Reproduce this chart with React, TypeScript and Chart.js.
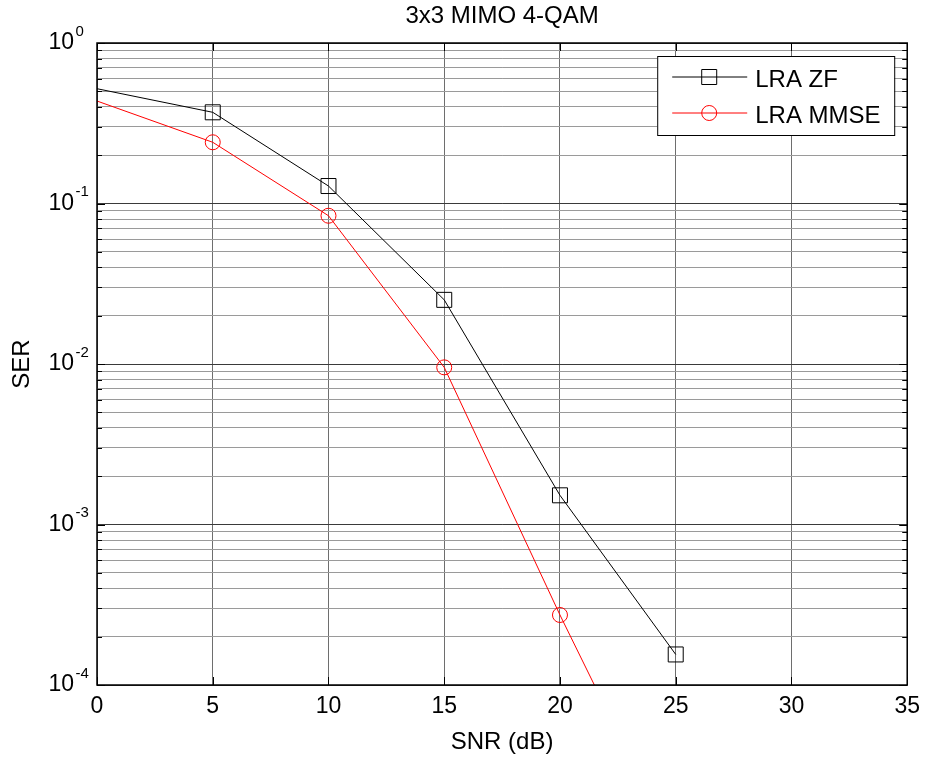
import React, { useEffect, useRef } from 'react';
import { Chart, registerables } from 'chart.js';

Chart.register(...registerables);

// ---- data ----
const snr = [0, 5, 10, 15, 20, 25];
const serZF = [0.519, 0.37, 0.1285, 0.0251, 0.00152, 0.000155];
const serMMSE = [0.435, 0.2407, 0.0839, 0.00953, 0.000273, 0.0000093];
const seriesLabels = ['LRA ZF', 'LRA MMSE'];
const xTicks = [0, 5, 10, 15, 20, 25, 30, 35];
const yDecades = [1e-4, 1e-3, 1e-2, 1e-1, 1];
const yExponents = ['-4', '-3', '-2', '-1', '0'];
const yMinorSteps = [2, 3, 4, 5, 6, 7, 8, 9];
const titleText = '3x3 MIMO 4-QAM';
const xTitle = 'SNR (dB)';
const yTitle = 'SER';

const FONT = '"Liberation Sans", Arial, sans-serif';

const isDecade = (v: number) => yDecades.some((d) => Math.abs(v - d) / d < 1e-6);

const decorPlugin = {
  id: 'matlabDecor',
  afterDatasetsDraw(chart: any) {
    const { ctx, chartArea } = chart;
    const { left, right, top, bottom } = chartArea;
    const xs = chart.scales.x;
    const ys = chart.scales.y;
    ctx.save();
    ctx.strokeStyle = '#000';
    ctx.lineWidth = 1;
    ctx.beginPath();
    xs.ticks.forEach((t: any) => {
      const px = Math.round(xs.getPixelForValue(t.value)) + 0.5;
      ctx.moveTo(px, bottom);
      ctx.lineTo(px, bottom - 8);
      ctx.moveTo(px, top);
      ctx.lineTo(px, top + 8);
    });
    ys.ticks.forEach((t: any) => {
      const py = Math.round(ys.getPixelForValue(t.value)) + 0.5;
      const len = isDecade(t.value) ? 8 : 5;
      ctx.moveTo(left, py);
      ctx.lineTo(left + len, py);
      ctx.moveTo(right, py);
      ctx.lineTo(right - len, py);
    });
    ctx.stroke();
    ctx.lineWidth = 1.5;
    ctx.strokeRect(left, top, right - left, bottom - top);
    ctx.restore();
  },
  afterDraw(chart: any) {
    const { ctx, chartArea } = chart;
    const ys = chart.scales.y;
    ctx.save();
    // superscript exponents of the y tick labels
    ctx.fillStyle = '#000';
    ctx.font = `15px ${FONT}`;
    ctx.textAlign = 'left';
    ctx.textBaseline = 'middle';
    yDecades.forEach((d, i) => {
      const py = ys.getPixelForValue(d);
      ctx.fillText(yExponents[i], chartArea.left - 21.5, py - 11.5);
    });

    // legend
    const lw = 237;
    const lh = 79;
    const lx = chartArea.right - 13 - lw;
    const ly = chartArea.top + 13;
    ctx.fillStyle = '#fff';
    ctx.fillRect(lx, ly, lw, lh);
    ctx.strokeStyle = '#000';
    ctx.lineWidth = 1;
    ctx.strokeRect(lx + 0.5, ly + 0.5, lw, lh);
    const rows = [ly + 21, ly + 57];
    chart.data.datasets.forEach((ds: any, i: number) => {
      const y = rows[i];
      ctx.strokeStyle = ds.borderColor;
      ctx.lineWidth = 1;
      ctx.beginPath();
      ctx.moveTo(lx + 15, y);
      ctx.lineTo(lx + 90, y);
      ctx.stroke();
      const mx = lx + 52;
      ctx.beginPath();
      if (ds.pointStyle === 'rect') {
        ctx.rect(mx - 7.5, y - 7.5, 15, 15);
      } else {
        ctx.arc(mx, y, 7.5, 0, Math.PI * 2);
      }
      ctx.stroke();
      ctx.fillStyle = '#000';
      ctx.font = `24px ${FONT}`;
      ctx.textAlign = 'left';
      ctx.textBaseline = 'middle';
      ctx.fillText(ds.label, lx + 98, y + 3.5);
    });
    ctx.restore();
  },
};

export default function App() {
  const canvasRef = useRef<HTMLCanvasElement | null>(null);

  useEffect(() => {
    const canvas = canvasRef.current;
    if (!canvas) return;
    const tickFont = { family: FONT, size: 23, weight: 'normal' as const };
    const chart = new Chart(canvas, {
      type: 'line',
      data: {
        datasets: [
          {
            label: seriesLabels[0],
            data: snr.map((x, i) => ({ x, y: serZF[i] })),
            borderColor: '#000000',
            borderWidth: 1,
            pointStyle: 'rect',
            pointRadius: (c: any) => (c.dataIndex === 0 ? 0 : 10.6),
            pointBorderColor: '#000000',
            pointBackgroundColor: 'rgba(0,0,0,0)',
            pointBorderWidth: 1,
            tension: 0,
            clip: 0,
          } as any,
          {
            label: seriesLabels[1],
            data: snr.map((x, i) => ({ x, y: serMMSE[i] })),
            borderColor: '#ff0000',
            borderWidth: 1,
            pointStyle: 'circle',
            pointRadius: (c: any) => (c.dataIndex === 0 ? 0 : 7.5),
            pointBorderColor: '#ff0000',
            pointBackgroundColor: 'rgba(0,0,0,0)',
            pointBorderWidth: 1,
            tension: 0,
            clip: 0,
          } as any,
        ],
      },
      options: {
        responsive: false,
        animation: false,
        events: [],
        layout: { padding: { top: 0, right: 15, bottom: 0, left: 0 } },
        plugins: {
          legend: { display: false },
          tooltip: { enabled: false },
          title: {
            display: true,
            text: titleText,
            fullSize: false,
            color: '#000',
            font: { family: FONT, size: 24, weight: 'normal' },
            padding: { top: 2.4, bottom: 11.8 },
          },
        },
        scales: {
          x: {
            type: 'linear',
            min: 0,
            max: 35,
            afterBuildTicks: (s: any) => {
              s.ticks = xTicks.map((v) => ({ value: v }));
            },
            afterFit: (s: any) => {
              s.height = 72;
            },
            grid: { color: '#6e6e6e', lineWidth: 1, drawTicks: false },
            border: { display: false },
            ticks: {
              font: tickFont,
              color: '#000',
              padding: 8,
              maxRotation: 0,
              autoSkip: false,
              callback: (v: any) => String(v),
            },
            title: {
              display: true,
              text: xTitle,
              color: '#000',
              font: { family: FONT, size: 24, weight: 'normal' },
              padding: { top: 0, bottom: 0 },
            },
          },
          y: {
            type: 'logarithmic',
            min: 1e-4,
            max: 1,
            afterBuildTicks: (s: any) => {
              const t: any[] = [];
              yDecades.forEach((d, i) => {
                t.push({ value: d });
                if (i < yDecades.length - 1) yMinorSteps.forEach((m) => t.push({ value: d * m }));
              });
              s.ticks = t;
            },
            afterFit: (s: any) => {
              s.width = 97;
            },
            grid: {
              color: (c: any) => (c.tick && isDecade(c.tick.value) ? '#3a3a3a' : '#9a9a9a'),
              lineWidth: 1,
              drawTicks: false,
            },
            border: { display: false },
            ticks: {
              font: tickFont,
              color: '#000',
              padding: 23,
              autoSkip: false,
              callback: (v: any) => (isDecade(Number(v)) ? '10' : ''),
            },
            title: {
              display: true,
              text: yTitle,
              color: '#000',
              font: { family: FONT, size: 24, weight: 'normal' },
              padding: { top: 7.6, bottom: 0 },
            },
          },
        },
      },
      plugins: [decorPlugin],
    });
    return () => chart.destroy();
  }, []);

  return (
    <div style={{ position: 'fixed', left: 0, top: 0, width: 928, height: 757, background: '#fff' }}>
      <canvas ref={canvasRef} width={928} height={757} style={{ width: 928, height: 757, display: 'block' }} />
    </div>
  );
}
